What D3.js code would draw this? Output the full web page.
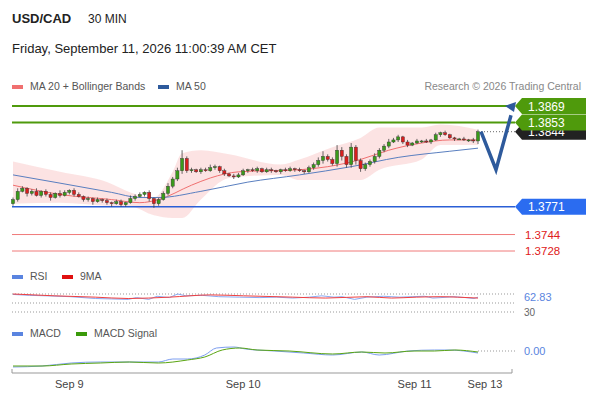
<!DOCTYPE html>
<html><head><meta charset="utf-8">
<script src="https://cdn.jsdelivr.net/npm/d3@7"></script>
<style>body{margin:0;background:#fff;font-family:"Liberation Sans",Arial,sans-serif}</style>
</head><body><div id="app"></div>
<script>
// USD/CAD 30 min snapshot
const closes = [
  1.3778,1.3786,1.3789,1.3784,1.3786,1.3782,1.3786,1.3783,1.3780,1.3784,
  1.3782,1.3785,1.3787,1.3783,1.3781,1.3778,1.3779,1.3776,1.3778,1.3777,
  1.3775,1.3774,1.3776,1.3773,1.3775,1.3779,1.3781,1.3783,1.3785,1.3779,
  1.3774,1.3778,1.3784,1.3791,1.3798,1.3806,1.3818,1.3806,1.3807,1.3805,
  1.3807,1.3806,1.3809,1.3810,1.3806,1.3803,1.3801,1.3800,1.3802,1.3806,
  1.3807,1.3806,1.3808,1.3805,1.3807,1.3806,1.3805,1.3807,1.3806,1.3808,
  1.3807,1.3806,1.3805,1.3809,1.3812,1.3816,1.3820,1.3817,1.3813,1.3826,
  1.3820,1.3812,1.3829,1.3816,1.3808,1.3812,1.3815,1.3820,1.3826,1.3830,
  1.3834,1.3836,1.3839,1.3834,1.3831,1.3833,1.3835,1.3835,1.3834,1.3836,
  1.3841,1.3843,1.3841,1.3838,1.3837,1.3837,1.3836,1.3836,1.3835,1.3844
];
const firstOpen = 1.3774;
// wick lengths in pips
const wickUp = [2,3,2,1,2,3,1,2,2,1,3,2,1,2,2,1,2,1,2,1,2,1,2,2,1,3,2,2,1,2,
  1,2,2,3,2,3,8,2,2,1,2,2,3,2,1,2,1,2,2,2,1,2,2,1,2,2,1,1,2,2,
  1,2,1,2,2,3,5,2,2,5,3,2,4,2,2,2,2,3,2,2,3,2,2,1,2,1,2,1,2,1,2,1,2,1,1,1,2,1,2,2];
const wickDn = [2,2,1,3,2,1,2,2,3,1,2,1,2,2,1,2,2,3,1,2,2,3,1,2,2,1,2,1,2,3,
  4,2,1,2,2,2,3,2,2,1,2,1,1,2,2,2,1,2,1,1,2,1,2,1,1,2,1,2,1,1,
  2,1,2,1,2,2,3,2,2,3,4,3,3,4,3,2,2,2,2,2,2,1,2,2,2,1,1,2,1,2,1,2,1,1,2,1,1,2,2,3];

// indicator lines (index, value)
const ma20 = [[0,1.3792],[10,1.3783],[21,1.3778],[27,1.3775],[31,1.3778],[38,1.3792],[42,1.3799],[48,1.3805],[61,1.3807],[67,1.3810],[74,1.3817],[80,1.3826],[87,1.3833],[93,1.3836],[99,1.3836]];
const bbUp = [[0,1.3815],[10,1.3805],[20,1.3795],[25,1.3785],[30,1.3780],[34,1.3805],[36,1.3823],[40,1.3826],[46,1.3822],[57,1.3812],[61,1.3817],[68,1.3829],[74,1.3838],[78,1.3848],[87,1.3848],[91,1.3851],[99,1.3846]];
const bbDn = [[0,1.3774],[10,1.3775],[20,1.3772],[27,1.3771],[31,1.3760],[36,1.3760],[40,1.3778],[46,1.3799],[57,1.3802],[61,1.3797],[68,1.3797],[74,1.3797],[78,1.3807],[87,1.3817],[91,1.3831],[99,1.3831]];
const ma50 = [[0,1.3802],[10,1.3794],[21,1.3785],[27,1.3780],[31,1.3780],[40,1.3786],[50,1.3795],[61,1.3802],[72,1.3810],[82,1.3819],[93,1.3825],[99,1.3828]];

const levels = [
  {v:1.3869, kind:"res"}, {v:1.3853, kind:"res"},
  {v:1.3771, kind:"sup"}, {v:1.3744, kind:"red"}, {v:1.3728, kind:"red"}
];
const lastPrice = 1.3844;

const rsi = [[0,69],[4,67],[8,66],[14,64],[20,60],[24,59],[28,58],[30,62],[33,58],[35,65],[38,62],[40,70],[42,66],[46,67],[50,64],[55,63],[60,62],[64,63],[68,61],[72,63],[75,66],[78,63],[80,64],[83,58],[86,63],[90,65],[94,63],[97,64],[100,65],[102,61],[104,62],[107,64],[110,62],[112,60],[113,63]];
const rsiMa = [[0,70],[10,66],[20,63],[28,60],[38,63],[48,68],[56,66],[68,63],[76,61],[86,64],[92,61],[98,63],[104,64],[108,63],[113,61]];
const macd = [[0,-0.0016],[10,-0.0015],[20,-0.0012],[30,-0.0011],[40,-0.0011],[50,-0.0011],[55,-0.0008],[60,-0.0008],[66,-0.0004],[70,0.0003],[76,0.0004],[80,0.0002],[90,0.0000],[100,-0.0002],[110,-0.0004],[120,-0.0001],[126,-0.0004],[136,0.0000],[145,0.0001],[150,0.0001],[160,-0.0002]];
const macdSig = [[0,-0.0015],[10,-0.0015],[20,-0.0013],[30,-0.0012],[40,-0.0011],[50,-0.0012],[60,-0.0009],[66,-0.0006],[72,0.0001],[78,0.0003],[84,0.0001],[95,0.0000],[110,-0.0003],[120,-0.0001],[128,-0.0002],[138,0.0000],[145,0.0000],[152,0.0001],[160,-0.0001]];
const dayTicks = [[12,"Sep 9"],[49,"Sep 10"],[85.5,"Sep 11"],[100.5,"Sep 13"]];

const W = 590, H = 400;
const svg = d3.select("#app").append("svg").attr("width", W).attr("height", H);

const x = d3.scaleLinear().domain([0, 99]).range([13, 478]);
const y = d3.scaleLinear().domain([1.3728, 1.3869]).range([251, 106]);

// header
svg.append("text").attr("x", 12).attr("y", 23).attr("font-size", 13).attr("font-weight", "bold").attr("fill", "#222").text("USD/CAD");
svg.append("text").attr("x", 88).attr("y", 23).attr("font-size", 12).attr("fill", "#222").text("30 MIN");
svg.append("text").attr("x", 12).attr("y", 53).attr("font-size", 13).attr("fill", "#222").text("Friday, September 11, 2026 11:00:39 AM CET");

function legend(lx, ly, color, label) {
  svg.append("rect").attr("x", lx).attr("y", ly - 5).attr("width", 11).attr("height", 4).attr("fill", color);
  svg.append("text").attr("x", lx + 18).attr("y", ly).attr("font-size", 10.5).attr("fill", "#555").text(label);
}
legend(12, 90, "#f07070", "MA 20 + Bollinger Bands");
legend(158, 90, "#2e5a9c", "MA 50");
svg.append("text").attr("x", 581).attr("y", 90).attr("text-anchor", "end").attr("font-size", 10.5).attr("fill", "#888").text("Research © 2026 Trading Central");

const line = d3.line().x(d => x(d[0])).y(d => y(d[1])).curve(d3.curveMonotoneX);

// bollinger band fill
const band = bbUp.map((d, i) => d);
svg.append("path")
  .attr("d", d3.area().x(d => x(d[0])).y0(d => y(d[2])).y1(d => y(d[1])).curve(d3.curveMonotoneX)(
    bbUp.map(d => [d[0], d[1], d3.scaleLinear().domain(bbDn.map(e => e[0])).range(bbDn.map(e => e[1]))(d[0])])))
  .attr("fill", "#fbdcdc").attr("opacity", 0.8);

// level lines
levels.forEach(l => {
  const col = l.kind === "res" ? "#4f9a0c" : l.kind === "sup" ? "#2b5fd6" : "#f07a7a";
  const sw = l.kind === "res" ? 2 : l.kind === "sup" ? 1.5 : 1;
  svg.append("line").attr("x1", 12).attr("x2", 515).attr("y1", y(l.v)).attr("y2", y(l.v)).attr("stroke", col).attr("stroke-width", sw);
});

svg.append("path").attr("d", line(ma20)).attr("fill", "none").attr("stroke", "#f07070").attr("stroke-width", 1);
svg.append("path").attr("d", line(ma50)).attr("fill", "none").attr("stroke", "#5a7fc0").attr("stroke-width", 1);

// candles
const candles = closes.map((c, i) => {
  const o = i === 0 ? firstOpen : closes[i - 1];
  return {i, o, c, h: Math.max(o, c) + wickUp[i] / 10000, l: Math.min(o, c) - wickDn[i] / 10000};
});
const cg = svg.append("g");
cg.selectAll("line").data(candles).join("line")
  .attr("x1", d => x(d.i)).attr("x2", d => x(d.i))
  .attr("y1", d => y(d.h)).attr("y2", d => y(d.l)).attr("stroke", "#444").attr("stroke-width", 0.8);
cg.selectAll("rect").data(candles).join("rect")
  .attr("x", d => x(d.i) - 1.6).attr("width", 3.2)
  .attr("y", d => y(Math.max(d.o, d.c)))
  .attr("height", d => Math.max(1, Math.abs(y(d.o) - y(d.c))))
  .attr("fill", d => d.c >= d.o ? "#3a9a1a" : "#d81e1e").attr("stroke", "#333").attr("stroke-width", 0.4);

// last price dotted line
svg.append("line").attr("x1", x(99) + 3).attr("x2", 515).attr("y1", y(lastPrice)).attr("y2", y(lastPrice))
  .attr("stroke", "#666").attr("stroke-dasharray", "1,2");

// forecast arrow
svg.append("path").attr("d", `M${x(99) + 3},${y(lastPrice)} L${x(99) + 18},${y(1.3807)} L${x(99) + 33},${y(1.3860)}`)
  .attr("fill", "none").attr("stroke", "#2e5a9c").attr("stroke-width", 3.5).attr("stroke-linejoin", "miter");
svg.append("path").attr("d", `M${x(99) + 38},${y(1.3873)} l-11,4 l9,6 z`).attr("fill", "#2e5a9c");

// price tags
function tag(v, bg, fg) {
  const yy = y(v);
  svg.append("path").attr("d", `M515,${yy} l7,-8 h64 v16 h-64 z`).attr("fill", bg);
  svg.append("text").attr("x", 528).attr("y", yy + 4.5).attr("font-size", 12).attr("fill", fg).text(v.toFixed(4));
}
tag(lastPrice, "#222", "#fff");
tag(1.3853, "#4f9a0c", "#fff");
tag(1.3869, "#4f9a0c", "#fff");
tag(1.3771, "#2b6cf0", "#fff");
levels.filter(l => l.kind === "red").forEach(l => {
  svg.append("text").attr("x", 525).attr("y", y(l.v) + 4).attr("font-size", 11.5).attr("fill", "#e02020").text(l.v.toFixed(4));
});

// RSI panel
legend(12, 280, "#5a84e0", "RSI");
legend(62, 280, "#e01010", "9MA");
const xs = d3.scaleLinear().domain([0, 113]).range([13, 478]);
const ry = d3.scaleLinear().domain([30, 70]).range([312, 294]);
[70, 50, 30].forEach(v => svg.append("line").attr("x1", 12).attr("x2", 515).attr("y1", ry(v)).attr("y2", ry(v))
  .attr("stroke", "#999").attr("stroke-dasharray", "1,2"));
const sl = (sx, sy) => d3.line().x(d => sx(d[0])).y(d => sy(d[1]));
svg.append("path").attr("d", sl(xs, ry)(rsi)).attr("fill", "none").attr("stroke", "#7d9ef0").attr("stroke-width", 0.9);
svg.append("path").attr("d", sl(xs, ry).curve(d3.curveMonotoneX)(rsiMa)).attr("fill", "none").attr("stroke", "#f04040").attr("stroke-width", 1);
svg.append("text").attr("x", 524).attr("y", 316).attr("font-size", 10).attr("fill", "#666").text("30");
svg.append("text").attr("x", 524).attr("y", 301).attr("font-size", 11).attr("fill", "#5a84e0").text("62.83");

// MACD panel
legend(12, 337, "#5a84e0", "MACD");
legend(76, 337, "#3a9a0a", "MACD Signal");
const xm = d3.scaleLinear().domain([0, 160]).range([13, 478]);
const my = d3.scaleLinear().domain([-0.0016, 0.0004]).range([367, 347]);
svg.append("line").attr("x1", 478).attr("x2", 515).attr("y1", my(0)).attr("y2", my(0)).attr("stroke", "#999").attr("stroke-dasharray", "1,2");
svg.append("path").attr("d", sl(xm, my).curve(d3.curveMonotoneX)(macd)).attr("fill", "none").attr("stroke", "#7d9ef0").attr("stroke-width", 1);
svg.append("path").attr("d", sl(xm, my).curve(d3.curveMonotoneX)(macdSig)).attr("fill", "none").attr("stroke", "#5aa512").attr("stroke-width", 1);
svg.append("text").attr("x", 524).attr("y", my(0) + 4).attr("font-size", 11).attr("fill", "#5a84e0").text("0.00");

// time axis
const xa = d3.scaleLinear().domain([0, 99]).range([13, 478]);
svg.append("path").attr("d", "M12,369 V373 H512 V369").attr("fill", "none").attr("stroke", "#999");
svg.selectAll(".day").data(dayTicks).join("text")
  .attr("x", d => xa(d[0])).attr("y", 388).attr("text-anchor", "middle")
  .attr("font-size", 11).attr("fill", "#444").text(d => d[1]);
</script></body></html>
